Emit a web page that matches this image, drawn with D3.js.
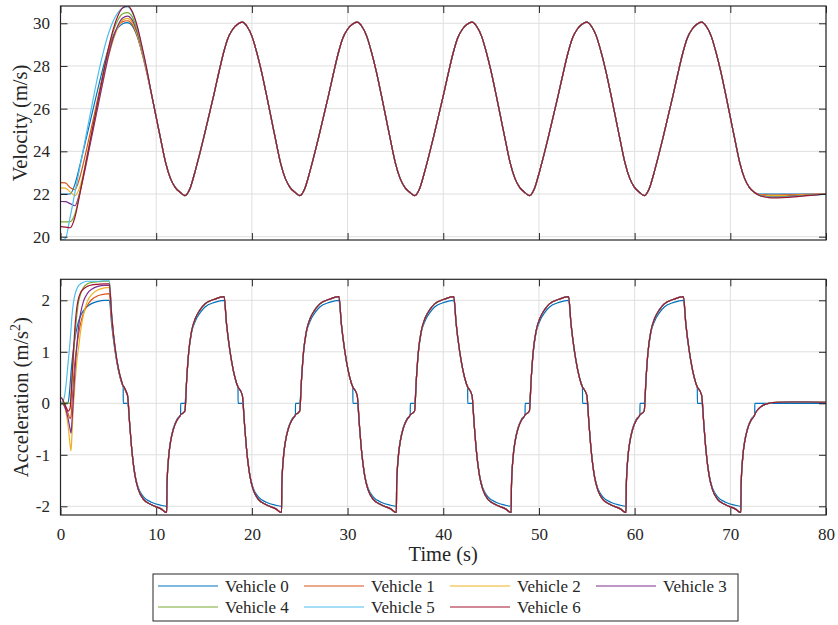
<!DOCTYPE html>
<html>
<head>
<meta charset="utf-8">
<script src="https://cdn.jsdelivr.net/npm/d3@7"></script>
<style>
  html, body { margin: 0; padding: 0; background: #ffffff; }
  svg { display: block; }
  text { font-family: "Liberation Serif", "Times New Roman", serif; fill: #262626; }
</style>
</head>
<body>
<svg id="chart" width="838" height="625"></svg>
<script>
// ---------------- DATA ----------------
const vehicles = ["Vehicle 0", "Vehicle 1", "Vehicle 2", "Vehicle 3", "Vehicle 4", "Vehicle 5", "Vehicle 6"];
const colors = ["#0072BD", "#D95319", "#EDB120", "#7E2F8E", "#77AC30", "#4DBEEE", "#A2142F"];

const xTicks = [0, 10, 20, 30, 40, 50, 60, 70, 80];
const velTicks = [20, 22, 24, 26, 28, 30];
const accTicks = [-2, -1, 0, 1, 2];

// Velocity: start-up part (per vehicle)
const velEarlyTime = [0, 0.5, 1, 1.5, 2, 2.5, 3, 3.5, 4, 4.5, 5, 5.5, 6, 6.5, 7, 7.5, 8, 8.5, 9];
const velEarly = [
  [22.0, 22.0, 22.0, 22.45, 23.3, 24.25, 25.2, 26.15, 27.1, 28.0, 28.8, 29.4, 29.78, 29.98, 30.03, 29.88, 29.4, 28.65, 27.75],
  [22.53, 22.52, 22.3, 22.2, 22.75, 23.65, 24.65, 25.65, 26.7, 27.7, 28.6, 29.35, 29.85, 30.08, 30.12, 29.95, 29.45, 28.65, 27.7],
  [22.29, 22.28, 22.1, 21.92, 22.3, 23.15, 24.2, 25.25, 26.35, 27.4, 28.4, 29.2, 29.8, 30.15, 30.23, 30.05, 29.5, 28.7, 27.75],
  [21.65, 21.64, 21.55, 21.45, 22.05, 23.0, 24.1, 25.2, 26.3, 27.4, 28.45, 29.3, 29.9, 30.25, 30.34, 30.15, 29.6, 28.8, 27.8],
  [20.69, 20.69, 20.7, 21.05, 22.0, 23.15, 24.3, 25.45, 26.6, 27.75, 28.8, 29.6, 30.15, 30.45, 30.5, 30.3, 29.7, 28.85, 27.85],
  [19.84, 19.9, 20.9, 22.05, 23.2, 24.35, 25.5, 26.65, 27.75, 28.7, 29.5, 30.1, 30.5, 30.72, 30.77, 30.5, 29.85, 28.9, 27.85],
  [20.47, 20.45, 20.42, 20.9, 21.95, 23.1, 24.25, 25.4, 26.55, 27.7, 28.8, 29.7, 30.35, 30.72, 30.82, 30.55, 29.9, 28.95, 27.9]
];
// Velocity: common part (all vehicles), 9.5 s .. 72.5 s every 0.5 s
const velCommonTime = [
  9.5, 10, 10.5, 11, 11.5, 12, 12.5,
  13, 13.5, 14, 14.5, 15, 15.5, 16, 16.5, 17, 17.5, 18, 18.5, 19, 19.5, 20, 20.5, 21, 21.5, 22, 22.5, 23, 23.5, 24, 24.5,
  25, 25.5, 26, 26.5, 27, 27.5, 28, 28.5, 29, 29.5, 30, 30.5, 31, 31.5, 32, 32.5, 33, 33.5, 34, 34.5, 35, 35.5, 36, 36.5,
  37, 37.5, 38, 38.5, 39, 39.5, 40, 40.5, 41, 41.5, 42, 42.5, 43, 43.5, 44, 44.5, 45, 45.5, 46, 46.5, 47, 47.5, 48, 48.5,
  49, 49.5, 50, 50.5, 51, 51.5, 52, 52.5, 53, 53.5, 54, 54.5, 55, 55.5, 56, 56.5, 57, 57.5, 58, 58.5, 59, 59.5, 60, 60.5,
  61, 61.5, 62, 62.5, 63, 63.5, 64, 64.5, 65, 65.5, 66, 66.5, 67, 67.5, 68, 68.5, 69, 69.5, 70, 70.5, 71, 71.5, 72, 72.5
];
const velCommon = [
  26.7, 25.6, 24.5, 23.45, 22.72, 22.3, 22.08,
  21.92, 22.22, 22.95, 23.8, 24.7, 25.65, 26.6, 27.6, 28.55, 29.3, 29.72, 29.95, 30.05, 29.85, 29.4, 28.65, 27.75, 26.7, 25.6, 24.5, 23.45, 22.72, 22.3, 22.08,
  21.92, 22.22, 22.95, 23.8, 24.7, 25.65, 26.6, 27.6, 28.55, 29.3, 29.72, 29.95, 30.05, 29.85, 29.4, 28.65, 27.75, 26.7, 25.6, 24.5, 23.45, 22.72, 22.3, 22.08,
  21.92, 22.22, 22.95, 23.8, 24.7, 25.65, 26.6, 27.6, 28.55, 29.3, 29.72, 29.95, 30.05, 29.85, 29.4, 28.65, 27.75, 26.7, 25.6, 24.5, 23.45, 22.72, 22.3, 22.08,
  21.92, 22.22, 22.95, 23.8, 24.7, 25.65, 26.6, 27.6, 28.55, 29.3, 29.72, 29.95, 30.05, 29.85, 29.4, 28.65, 27.75, 26.7, 25.6, 24.5, 23.45, 22.72, 22.3, 22.08,
  21.92, 22.22, 22.95, 23.8, 24.7, 25.65, 26.6, 27.6, 28.55, 29.3, 29.72, 29.95, 30.05, 29.85, 29.4, 28.65, 27.75, 26.7, 25.6, 24.5, 23.45, 22.72, 22.3, 22.08
];
// Velocity: settling part (per vehicle)
const velTailTime = [73, 73.5, 74, 74.5, 75, 76, 77, 78, 79, 80];
const velTail = [
  [22.0, 22.0, 22.0, 22.0, 22.0, 22.0, 22.0, 22.0, 22.0, 22.0],
  [21.97, 21.96, 21.95, 21.95, 21.95, 21.96, 21.97, 21.98, 21.99, 22.0],
  [21.96, 21.93, 21.92, 21.92, 21.92, 21.93, 21.95, 21.97, 21.98, 22.0],
  [21.95, 21.9, 21.88, 21.87, 21.87, 21.89, 21.92, 21.95, 21.97, 21.99],
  [21.95, 21.89, 21.86, 21.85, 21.85, 21.87, 21.9, 21.94, 21.97, 21.99],
  [21.94, 21.88, 21.85, 21.84, 21.84, 21.86, 21.89, 21.93, 21.96, 21.99],
  [21.94, 21.87, 21.83, 21.82, 21.82, 21.84, 21.88, 21.92, 21.96, 21.99]
];

// Acceleration: start-up part (per vehicle)
const accEarlyTime = [0, 0.2, 0.4, 0.6, 0.8, 1.0, 1.1, 1.2, 1.35, 1.5, 1.7, 1.9, 2.1, 2.4, 2.8, 3.3, 3.9, 4.6, 5.1, 5.35, 5.7, 6.05, 6.4, 6.55, 6.56, 6.6, 6.95];
const accEarly = [
  [0, 0, 0, 0, 0.02, 0.35, 0.6, 0.8, 1.05, 1.25, 1.45, 1.6, 1.7, 1.8, 1.88, 1.94, 1.98, 2.0, 2.0, 1.52, 1.01, 0.64, 0.39, 0.32, 0, 0, 0],
  [0, 0.02, -0.02, -0.1, -0.2, -0.3, -0.25, 0.0, 0.45, 0.8, 1.1, 1.35, 1.55, 1.75, 1.9, 2.02, 2.09, 2.12, 2.13, 1.6, 1.05, 0.66, 0.4, 0.33, 0.33, 0.32, 0.18],
  [0, 0, -0.05, -0.2, -0.45, -0.8, -0.92, -0.6, -0.05, 0.35, 0.8, 1.1, 1.4, 1.72, 1.98, 2.12, 2.2, 2.24, 2.25, 1.65, 1.06, 0.67, 0.41, 0.33, 0.33, 0.32, 0.18],
  [0.02, 0, -0.05, -0.15, -0.3, -0.5, -0.58, -0.35, 0.1, 0.6, 1.1, 1.5, 1.75, 1.98, 2.13, 2.22, 2.27, 2.29, 2.29, 1.68, 1.07, 0.67, 0.41, 0.34, 0.34, 0.33, 0.18],
  [-0.05, 0.03, -0.03, 0.02, 0, 0, 0.1, 0.4, 0.9, 1.3, 1.7, 1.98, 2.12, 2.25, 2.32, 2.35, 2.36, 2.37, 2.37, 1.72, 1.08, 0.68, 0.42, 0.34, 0.34, 0.33, 0.19],
  [0, 0.03, 0.12, 0.4, 0.8, 1.2, 1.45, 1.7, 1.95, 2.1, 2.22, 2.29, 2.32, 2.35, 2.37, 2.37, 2.37, 2.38, 2.38, 1.72, 1.08, 0.68, 0.42, 0.34, 0.34, 0.33, 0.19],
  [0.12, 0.08, 0, -0.08, -0.15, -0.1, 0.15, 0.5, 1.0, 1.45, 1.85, 2.05, 2.15, 2.22, 2.27, 2.3, 2.31, 2.32, 2.32, 1.7, 1.08, 0.68, 0.42, 0.34, 0.34, 0.33, 0.19]
];
// Acceleration: common part from 7 s to 80 s
const accTime = [
  7.0, 7.25, 7.45, 7.8, 8.15, 8.7, 9.5, 10.5, 11.1, 11.13, 11.3, 11.5, 11.8, 12.2, 12.55, 12.56, 12.6, 13.0, 13.2, 13.4, 13.7, 14.1, 14.6, 15.1, 16.1, 17.1, 17.35, 17.7, 18.05, 18.4, 18.55, 18.56, 18.6,
  19.0, 19.25, 19.45, 19.8, 20.15, 20.7, 21.5, 22.5, 23.1, 23.13, 23.3, 23.5, 23.8, 24.2, 24.55, 24.56, 24.6, 25.0, 25.2, 25.4, 25.7, 26.1, 26.6, 27.1, 28.1, 29.1, 29.35, 29.7, 30.05, 30.4, 30.55, 30.56, 30.6,
  31.0, 31.25, 31.45, 31.8, 32.15, 32.7, 33.5, 34.5, 35.1, 35.13, 35.3, 35.5, 35.8, 36.2, 36.55, 36.56, 36.6, 37.0, 37.2, 37.4, 37.7, 38.1, 38.6, 39.1, 40.1, 41.1, 41.35, 41.7, 42.05, 42.4, 42.55, 42.56, 42.6,
  43.0, 43.25, 43.45, 43.8, 44.15, 44.7, 45.5, 46.5, 47.1, 47.13, 47.3, 47.5, 47.8, 48.2, 48.55, 48.56, 48.6, 49.0, 49.2, 49.4, 49.7, 50.1, 50.6, 51.1, 52.1, 53.1, 53.35, 53.7, 54.05, 54.4, 54.55, 54.56, 54.6,
  55.0, 55.25, 55.45, 55.8, 56.15, 56.7, 57.5, 58.5, 59.1, 59.13, 59.3, 59.5, 59.8, 60.2, 60.55, 60.56, 60.6, 61.0, 61.2, 61.4, 61.7, 62.1, 62.6, 63.1, 64.1, 65.1, 65.35, 65.7, 66.05, 66.4, 66.55, 66.56, 66.6,
  67.0, 67.25, 67.45, 67.8, 68.15, 68.7, 69.5, 70.5, 71.1, 71.13, 71.3, 71.5, 71.8, 72.2, 72.55, 72.56, 72.6, 73.0, 73.5, 74.0, 75.0, 76.5, 78.0, 80.0
];
// leader (Vehicle 0)
const accLeader = [
  0.0, -0.45, -0.9, -1.4, -1.65, -1.82, -1.92, -1.98, -2.0, -1.55, -1.02, -0.73, -0.48, -0.3, -0.22, 0, 0, 0, 0.5, 0.98, 1.37, 1.6, 1.76, 1.87, 1.96, 2.0, 1.52, 1.01, 0.64, 0.39, 0.32, 0, 0,
  0.0, -0.45, -0.9, -1.4, -1.65, -1.82, -1.92, -1.98, -2.0, -1.55, -1.02, -0.73, -0.48, -0.3, -0.22, 0, 0, 0, 0.5, 0.98, 1.37, 1.6, 1.76, 1.87, 1.96, 2.0, 1.52, 1.01, 0.64, 0.39, 0.32, 0, 0,
  0.0, -0.45, -0.9, -1.4, -1.65, -1.82, -1.92, -1.98, -2.0, -1.55, -1.02, -0.73, -0.48, -0.3, -0.22, 0, 0, 0, 0.5, 0.98, 1.37, 1.6, 1.76, 1.87, 1.96, 2.0, 1.52, 1.01, 0.64, 0.39, 0.32, 0, 0,
  0.0, -0.45, -0.9, -1.4, -1.65, -1.82, -1.92, -1.98, -2.0, -1.55, -1.02, -0.73, -0.48, -0.3, -0.22, 0, 0, 0, 0.5, 0.98, 1.37, 1.6, 1.76, 1.87, 1.96, 2.0, 1.52, 1.01, 0.64, 0.39, 0.32, 0, 0,
  0.0, -0.45, -0.9, -1.4, -1.65, -1.82, -1.92, -1.98, -2.0, -1.55, -1.02, -0.73, -0.48, -0.3, -0.22, 0, 0, 0, 0.5, 0.98, 1.37, 1.6, 1.76, 1.87, 1.96, 2.0, 1.52, 1.01, 0.64, 0.39, 0.32, 0, 0,
  0.0, -0.45, -0.9, -1.4, -1.65, -1.82, -1.92, -1.98, -2.0, -1.55, -1.02, -0.73, -0.48, -0.3, -0.22, 0, 0, 0, 0, 0, 0, 0, 0, 0
];
// followers (Vehicles 1-6)
const accFollower = [
  0.16, -0.45, -0.9, -1.42, -1.68, -1.87, -1.97, -2.05, -2.12, -1.6, -1.05, -0.75, -0.5, -0.32, -0.225, -0.22, -0.215, -0.15, 0.5, 1.0, 1.4, 1.65, 1.82, 1.93, 2.02, 2.07, 1.55, 1.03, 0.65, 0.39, 0.315, 0.31, 0.30,
  0.16, -0.45, -0.9, -1.42, -1.68, -1.87, -1.97, -2.05, -2.12, -1.6, -1.05, -0.75, -0.5, -0.32, -0.225, -0.22, -0.215, -0.15, 0.5, 1.0, 1.4, 1.65, 1.82, 1.93, 2.02, 2.07, 1.55, 1.03, 0.65, 0.39, 0.315, 0.31, 0.30,
  0.16, -0.45, -0.9, -1.42, -1.68, -1.87, -1.97, -2.05, -2.12, -1.6, -1.05, -0.75, -0.5, -0.32, -0.225, -0.22, -0.215, -0.15, 0.5, 1.0, 1.4, 1.65, 1.82, 1.93, 2.02, 2.07, 1.55, 1.03, 0.65, 0.39, 0.315, 0.31, 0.30,
  0.16, -0.45, -0.9, -1.42, -1.68, -1.87, -1.97, -2.05, -2.12, -1.6, -1.05, -0.75, -0.5, -0.32, -0.225, -0.22, -0.215, -0.15, 0.5, 1.0, 1.4, 1.65, 1.82, 1.93, 2.02, 2.07, 1.55, 1.03, 0.65, 0.39, 0.315, 0.31, 0.30,
  0.16, -0.45, -0.9, -1.42, -1.68, -1.87, -1.97, -2.05, -2.12, -1.6, -1.05, -0.75, -0.5, -0.32, -0.225, -0.22, -0.215, -0.15, 0.5, 1.0, 1.4, 1.65, 1.82, 1.93, 2.02, 2.07, 1.55, 1.03, 0.65, 0.39, 0.315, 0.31, 0.30,
  0.16, -0.45, -0.9, -1.42, -1.68, -1.87, -1.97, -2.05, -2.12, -1.6, -1.05, -0.75, -0.5, -0.32, -0.225, -0.22, -0.2, -0.1, -0.03, 0.0, 0.02, 0.025, 0.025, 0.02
];

// ---------------- BUILD SERIES ----------------
function zip(ts, vs) { return ts.map((t, i) => [t, vs[i]]); }
const velSeries = vehicles.map((_, k) =>
  zip(velEarlyTime, velEarly[k]).concat(zip(velCommonTime, velCommon), zip(velTailTime, velTail[k])));
const accSeries = vehicles.map((_, k) =>
  zip(accEarlyTime, accEarly[k]).concat(zip(accTime, k === 0 ? accLeader : accFollower)));

// ---------------- LAYOUT ----------------
const FONT = '"Liberation Serif", "Times New Roman", serif';
const svg = d3.select("#chart").attr("font-family", FONT);
const L = 60.5, R = 826;
const x = d3.scaleLinear().domain([0, 80]).range([L, R]);
const panels = [
  { top: 6, bottom: 240, y: d3.scaleLinear().domain([19.845, 30.81]).range([240, 6]), ticks: velTicks, series: velSeries, xlabels: false, id: "v" },
  { top: 279.3, bottom: 515, y: d3.scaleLinear().domain([-2.169, 2.408]).range([515, 279.3]), ticks: accTicks, series: accSeries, xlabels: true, id: "a" }
];
const gridColor = "#dfdfdf";
const axisColor = "#262626";
const tickFont = 17;

panels.forEach(p => {
  const g = svg.append("g");
  // grid
  g.append("g").selectAll("line").data(xTicks).join("line")
    .attr("x1", d => x(d)).attr("x2", d => x(d))
    .attr("y1", p.top).attr("y2", p.bottom)
    .attr("stroke", gridColor).attr("stroke-width", 1);
  g.append("g").selectAll("line").data(p.ticks).join("line")
    .attr("x1", L).attr("x2", R)
    .attr("y1", d => p.y(d)).attr("y2", d => p.y(d))
    .attr("stroke", gridColor).attr("stroke-width", 1);

  // clip
  svg.append("clipPath").attr("id", "clip-" + p.id)
    .append("rect").attr("x", L).attr("y", p.top).attr("width", R - L).attr("height", p.bottom - p.top);

  const line = d3.line().x(d => x(d[0])).y(d => p.y(d[1])).curve(d3.curveMonotoneX);
  g.append("g").attr("clip-path", `url(#clip-${p.id})`)
    .selectAll("path").data(p.series).join("path")
    .attr("d", line)
    .attr("fill", "none")
    .attr("stroke", (d, i) => colors[i])
    .attr("stroke-width", 1.2)
    .attr("stroke-linejoin", "round");

  // axes
  const ax = g.append("g");
  const bottom = d3.axisBottom(x).tickValues(xTicks).tickSize(-7).tickPadding(13)
    .tickFormat(p.xlabels ? d3.format("d") : () => "");
  const top = d3.axisTop(x).tickValues(xTicks).tickSize(-7).tickFormat(() => "");
  const left = d3.axisLeft(p.y).tickValues(p.ticks).tickSize(-7).tickPadding(10.5).tickFormat(d => d < 0 ? "-" + Math.abs(d) : String(d));
  const right = d3.axisRight(p.y).tickValues(p.ticks).tickSize(-7).tickFormat(() => "");
  [[bottom, `translate(0,${p.bottom})`], [top, `translate(0,${p.top})`], [left, `translate(${L},0)`], [right, `translate(${R},0)`]]
    .forEach(([a, tr]) => {
      const s = ax.append("g").attr("transform", tr).call(a).attr("font-family", FONT).attr("font-size", tickFont);
      s.select(".domain").remove();
      s.selectAll(".tick line").attr("stroke", axisColor).attr("stroke-width", 1);
      s.selectAll(".tick text").attr("fill", axisColor);
    });
  ax.append("rect").attr("x", L).attr("y", p.top).attr("width", R - L).attr("height", p.bottom - p.top)
    .attr("fill", "none").attr("stroke", axisColor).attr("stroke-width", 1.2);
});

// axis labels
const labelFont = 20.5;
svg.append("text").attr("transform", `translate(27,${(6 + 240) / 2}) rotate(-90)`)
  .attr("text-anchor", "middle").attr("font-size", labelFont).text("Velocity (m/s)");
const accLab = svg.append("text").attr("transform", `translate(28,${(279.3 + 515) / 2}) rotate(-90)`)
  .attr("text-anchor", "middle").attr("font-size", labelFont);
accLab.append("tspan").text("Acceleration (m/s");
accLab.append("tspan").attr("font-size", 14).attr("dy", -8).text("2");
accLab.append("tspan").attr("dy", 8).text(")");
svg.append("text").attr("x", (L + R) / 2).attr("y", 561).attr("text-anchor", "middle")
  .attr("font-size", labelFont).text("Time (s)");

// legend
const lg = svg.append("g");
lg.append("rect").attr("x", 153).attr("y", 574).attr("width", 585).attr("height", 47)
  .attr("fill", "#ffffff").attr("stroke", axisColor).attr("stroke-width", 1);
const legendItems = lg.selectAll("g").data(vehicles).join("g")
  .attr("transform", (d, i) => `translate(${158 + (i % 4) * 146},${i < 4 ? 586 : 607})`);
legendItems.append("line").attr("x1", 0).attr("x2", 60).attr("y1", 0).attr("y2", 0)
  .attr("stroke", (d, i) => colors[i]).attr("stroke-width", 1.2);
legendItems.append("text").attr("x", 67).attr("y", 0).attr("dy", "0.35em")
  .attr("font-size", tickFont).text(d => d);
</script>
</body>
</html>
